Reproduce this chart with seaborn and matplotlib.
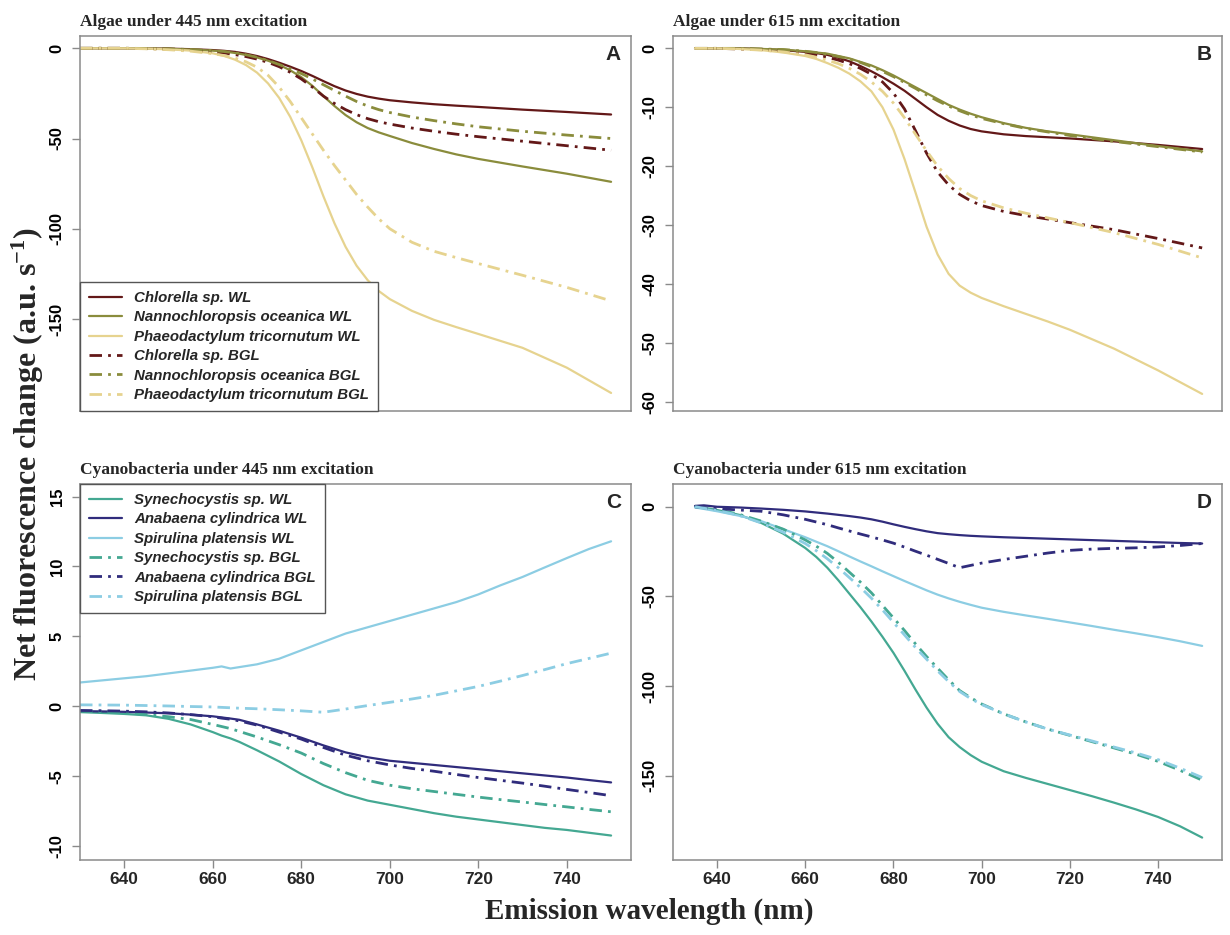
import numpy as np
import pandas as pd
import matplotlib
matplotlib.use("Agg")
import matplotlib.pyplot as plt
import seaborn as sns

# ---------------- data ----------------
nm_A = [630, 635, 640, 645, 650, 655, 660, 662.5, 665, 667.5, 670, 672.5, 675, 677.5, 680, 682.5,
        685, 687.5, 690, 692.5, 695, 697.5, 700, 705, 710, 715, 720, 730, 740, 750]
chl_wl_A  = [0, 0, 0, -0.1, -0.2, -0.5, -1.0, -1.4, -2.0, -3.0, -4.3, -6.0, -8.0, -10.2, -12.6, -15.3,
             -18.2, -21.0, -23.4, -25.3, -26.8, -27.9, -28.8, -30.0, -31.0, -31.8, -32.5, -34.0, -35.3, -36.7]
nan_wl_A  = [0, 0, 0, -0.1, -0.3, -0.7, -1.3, -1.8, -2.6, -3.7, -5.1, -6.9, -9.2, -12.2, -16, -20.8,
             -26.5, -32, -37, -41, -44.2, -46.6, -48.6, -52.5, -55.8, -58.8, -61.3, -65.5, -69.5, -74]
pha_wl_A  = [0, 0, 0, -0.2, -0.6, -1.3, -2.8, -4.2, -6.3, -9.3, -13.5, -19.5, -27.5, -38, -51, -66,
             -82, -97, -110, -120.5, -128.5, -134.5, -139, -145.5, -150.5, -154.5, -158.3, -166, -177, -191]
chl_bgl_A = [0, 0, 0, -0.2, -0.4, -1.0, -1.9, -2.6, -3.5, -4.6, -6.0, -7.8, -10.2, -13.3, -17, -21.5,
             -26.5, -30.6, -34, -36.8, -39, -40.7, -42, -44.2, -46, -47.6, -49, -51.5, -54, -56.5]
nan_bgl_A = [0, 0, 0, -0.1, -0.3, -0.7, -1.3, -1.8, -2.5, -3.6, -5.0, -6.8, -9.0, -11.4, -14.0, -17,
             -20.2, -23.4, -26.5, -29.5, -32, -34, -35.6, -38.1, -40.1, -41.9, -43.5, -46, -48.1, -50]
pha_bgl_A = [0, 0, 0, -0.3, -0.8, -1.6, -3, -4, -5.4, -7.5, -10.5, -15, -21.5, -29.5, -38.5, -47.5,
             -56.5, -65, -73, -81, -88, -94.5, -100, -107.5, -112.5, -116, -119.3, -125.8, -132.5, -140]

nm_B = [635, 640, 645, 650, 655, 660, 662.5, 665, 667.5, 670, 672.5, 675, 677.5, 680, 682.5,
        685, 687.5, 690, 692.5, 695, 697.5, 700, 705, 710, 715, 720, 730, 740, 750]
chl_wl_B  = [0, 0, 0, -0.1, -0.3, -0.6, -0.8, -1.1, -1.6, -2.2, -3.0, -3.9, -4.9, -6.0, -7.2,
             -8.6, -10.0, -11.3, -12.3, -13.1, -13.7, -14.1, -14.6, -14.9, -15.1, -15.3, -15.8, -16.4, -17.1]
nan_wl_B  = [0, 0, 0, -0.1, -0.2, -0.5, -0.7, -0.9, -1.3, -1.7, -2.3, -2.9, -3.7, -4.6, -5.6,
             -6.6, -7.6, -8.6, -9.6, -10.4, -11.1, -11.7, -12.7, -13.5, -14.1, -14.6, -15.6, -16.6, -17.5]
pha_wl_B  = [0, 0, -0.1, -0.3, -0.7, -1.3, -1.8, -2.5, -3.3, -4.3, -5.6, -7.3, -10, -13.8, -18.8,
             -24.5, -30.3, -35, -38.3, -40.3, -41.5, -42.4, -43.8, -45.1, -46.4, -47.8, -51, -54.7, -58.7]
chl_bgl_B = [0, 0, -0.1, -0.2, -0.4, -0.8, -1.1, -1.5, -2.0, -2.6, -3.4, -4.4, -5.7, -7.6, -10.3,
             -14, -17.8, -21, -23.2, -24.8, -25.9, -26.7, -27.7, -28.4, -29, -29.6, -30.8, -32.3, -33.9]
nan_bgl_B = [0, 0, 0, -0.1, -0.2, -0.5, -0.7, -1.0, -1.4, -1.8, -2.4, -3.1, -3.9, -4.8, -5.8,
             -6.8, -7.9, -8.9, -9.8, -10.6, -11.3, -11.9, -12.8, -13.6, -14.2, -14.8, -15.8, -16.7, -17.6]
pha_bgl_B = [0, 0, -0.1, -0.3, -0.6, -1.1, -1.5, -2.0, -2.6, -3.4, -4.4, -5.7, -7.3, -9.3, -11.8,
             -14.6, -17.4, -20, -22.1, -23.8, -25, -25.9, -27.1, -28, -28.8, -29.6, -31.3, -33.3, -35.6]

nm_C = [630, 635, 640, 645, 650, 655, 660, 662, 664, 666, 670, 675, 680, 685, 690, 695, 700, 705, 710, 715, 720, 725, 730, 735, 740, 745, 750]
syn_wl_C  = [-0.42, -0.48, -0.55, -0.65, -0.9, -1.3, -1.85, -2.1, -2.3, -2.55, -3.15, -3.95, -4.85, -5.65, -6.3, -6.75, -7.05, -7.35, -7.65, -7.9, -8.1, -8.3, -8.5, -8.7, -8.85, -9.05, -9.25]
ana_wl_C  = [-0.35, -0.37, -0.4, -0.45, -0.5, -0.6, -0.72, -0.8, -0.88, -0.97, -1.3, -1.75, -2.25, -2.8, -3.3, -3.65, -3.9, -4.05, -4.2, -4.35, -4.5, -4.65, -4.8, -4.95, -5.1, -5.28, -5.45]
spi_wl_C  = [1.7, 1.85, 2.0, 2.15, 2.35, 2.55, 2.75, 2.85, 2.7, 2.8, 3.0, 3.4, 4.0, 4.6, 5.2, 5.65, 6.1, 6.55, 7.0, 7.45, 8.0, 8.65, 9.25, 9.93, 10.6, 11.25, 11.8]
syn_bgl_C = [-0.35, -0.4, -0.45, -0.6, -0.75, -0.95, -1.3, -1.45, -1.6, -1.8, -2.2, -2.75, -3.35, -4.1, -4.75, -5.3, -5.65, -5.9, -6.1, -6.3, -6.5, -6.68, -6.85, -7.03, -7.2, -7.38, -7.55]
ana_bgl_C = [-0.3, -0.32, -0.35, -0.4, -0.48, -0.6, -0.75, -0.85, -0.93, -1.05, -1.35, -1.85, -2.35, -2.95, -3.5, -3.9, -4.2, -4.45, -4.65, -4.88, -5.1, -5.3, -5.5, -5.72, -5.95, -6.17, -6.4]
spi_bgl_C = [0.1, 0.09, 0.08, 0.05, 0.02, -0.02, -0.05, -0.08, -0.11, -0.14, -0.18, -0.25, -0.33, -0.43, -0.2, 0.05, 0.28, 0.52, 0.78, 1.1, 1.42, 1.8, 2.2, 2.62, 3.05, 3.42, 3.8]

nm_D = [635, 637, 640, 645, 650, 655, 660, 662.5, 665, 667.5, 670, 672.5, 675, 677.5, 680, 682.5,
        685, 687.5, 690, 692.5, 695, 697.5, 700, 705, 710, 715, 720, 725, 730, 735, 740, 745, 750]
syn_wl_D  = [0, -0.5, -1.8, -4.5, -9, -15, -23, -28, -34, -41, -48.5, -56, -64, -72.5, -81.5, -91.5,
             -102, -112, -121, -128.5, -134, -138.5, -142.2, -147.5, -151.2, -154.6, -158, -161.4, -165, -168.8, -173, -178.2, -184.5]
ana_wl_D  = [0.5, 0.8, 0, -0.4, -1, -1.7, -2.6, -3.2, -3.8, -4.5, -5.2, -6.0, -7, -8.3, -9.8, -11.2,
             -12.5, -13.7, -14.7, -15.3, -15.8, -16.2, -16.5, -17, -17.4, -17.8, -18.2, -18.6, -19, -19.4, -19.8, -20.2, -20.5]
spi_wl_D  = [-0.4, -1.2, -2.5, -5, -8, -12.5, -17, -19.5, -22, -24.8, -27.7, -30.5, -33.2, -36, -38.7, -41.4,
             -44, -46.6, -49, -51.1, -53, -54.7, -56.3, -58.6, -60.6, -62.5, -64.5, -66.5, -68.6, -70.6, -72.7, -75, -77.6]
syn_bgl_D = [0, -0.6, -1.5, -4.2, -8, -12.5, -18.5, -22, -26, -31, -36.5, -42, -48, -55, -62, -69,
             -76.5, -83.5, -90, -96.5, -102.5, -106.5, -110, -115.5, -120, -124, -127.5, -131, -134.5, -138, -142, -147, -152.5]
ana_bgl_D = [0, -0.5, -1, -1.8, -2.5, -4.5, -7, -8.5, -10, -11.8, -13.5, -15.2, -16.8, -18.5, -20.3, -22.5,
             -24.8, -27, -29.3, -31.6, -34, -32.7, -31.4, -29.4, -27.6, -25.8, -24.3, -23.6, -23.2, -22.9, -22.4, -21.6, -20.5]
spi_bgl_D = [0, -0.8, -2, -4.8, -9, -14.2, -20.5, -24.5, -29, -34, -39.5, -45, -51, -57.5, -64.5, -71.5,
             -78.5, -85, -91.5, -97.5, -103, -107, -110.3, -115.5, -120, -124, -127.3, -130.6, -134, -137.3, -141, -145.8, -151]

algae_names = ["Chlorella sp.", "Nannochloropsis oceanica", "Phaeodactylum tricornutum"]
cyano_names = ["Synechocystis sp.", "Anabaena cylindrica", "Spirulina platensis"]
conditions = ["WL", "BGL"]
algae_colors = ["#631818", "#8a8c3c", "#e6d38f"]
cyano_colors = ["#44a892", "#302c7c", "#8ccde3"]

titles = ["Algae under 445 nm excitation", "Algae under 615 nm excitation",
          "Cyanobacteria under 445 nm excitation", "Cyanobacteria under 615 nm excitation"]
letters = ["A", "B", "C", "D"]
yticks_A = [-150, -100, -50, 0]
yticks_B = [-60, -50, -40, -30, -20, -10, 0]
yticks_C = [-10, -5, 0, 5, 10, 15]
yticks_D = [-150, -100, -50, 0]
xticks = [640, 660, 680, 700, 720, 740]

# ---------------- style ----------------
sns.set_theme(style="white")
plt.rcParams["font.family"] = ["Liberation Sans", "DejaVu Sans"]
plt.rcParams["mathtext.fontset"] = "custom"
plt.rcParams["mathtext.rm"] = "Liberation Serif:bold"
plt.rcParams["mathtext.it"] = "Liberation Serif:bold:italic"
plt.rcParams["mathtext.bf"] = "Liberation Serif:bold"
plt.rcParams["axes.unicode_minus"] = False

fig = plt.figure(figsize=(12.3, 9.35), dpi=100)
W, H = 1230.0, 935.0
def box(l, t, r, b):
    return [l / W, 1 - b / H, (r - l) / W, (b - t) / H]

axA = fig.add_axes(box(80, 36, 631, 411))
axB = fig.add_axes(box(673, 36, 1222, 411))
axC = fig.add_axes(box(80, 484, 631, 860))
axD = fig.add_axes(box(673, 484, 1222, 860))

DASHDOT = (0, (4.5, 2.2, 1.0, 2.2))

def draw(ax, nm, series, names, colors):
    for cond, data in zip(conditions, series):
        for name, col, vals in zip(names, colors, data):
            ls = "-" if cond == "WL" else DASHDOT
            lw = 1.6 if cond == "WL" else 2.0
            sns.lineplot(x=nm, y=vals, ax=ax, color=col, linestyle=ls, linewidth=lw,
                         label=f"{name} {cond}", sort=False, legend=False)

draw(axA, nm_A, [[chl_wl_A, nan_wl_A, pha_wl_A], [chl_bgl_A, nan_bgl_A, pha_bgl_A]], algae_names, algae_colors)
draw(axB, nm_B, [[chl_wl_B, nan_wl_B, pha_wl_B], [chl_bgl_B, nan_bgl_B, pha_bgl_B]], algae_names, algae_colors)
draw(axC, nm_C, [[syn_wl_C, ana_wl_C, spi_wl_C], [syn_bgl_C, ana_bgl_C, spi_bgl_C]], cyano_names, cyano_colors)
draw(axD, nm_D, [[syn_wl_D, ana_wl_D, spi_wl_D], [syn_bgl_D, ana_bgl_D, spi_bgl_D]], cyano_names, cyano_colors)

ylims = [(-201, 6.8), (-61.6, 2.1), (-11.0, 15.9), (-197, 12.7)]
yticks = [yticks_A, yticks_B, yticks_C, yticks_D]
for i, ax in enumerate([axA, axB, axC, axD]):
    ax.set_xlim(630, 754.5)
    ax.set_ylim(*ylims[i])
    ax.set_yticks(yticks[i])
    ax.set_yticklabels([f"{v:g}" for v in yticks[i]], rotation=90, va="center",
                       fontsize=12, fontweight="bold", color="black")
    ax.set_xlabel("")
    ax.set_ylabel("")
    for s in ax.spines.values():
        s.set_color("#8a8a8a")
        s.set_linewidth(1.1)
    ax.tick_params(axis="y", direction="out", length=6, width=1, color="#8a8a8a", pad=5, left=True)
    if i < 2:
        ax.set_xticks([])
    else:
        ax.set_xticks(xticks)
        ax.set_xticklabels([str(v) for v in xticks], fontsize=12.5, fontweight="bold")
        ax.tick_params(axis="x", direction="out", length=6, width=1, color="#8a8a8a", pad=3, bottom=True)
    ax.set_title(titles[i], loc="left", fontsize=12.5, fontweight="bold",
                 family="Liberation Serif", pad=7)
    ax.text(0.982, 0.975, letters[i], transform=ax.transAxes, ha="right", va="top",
            fontsize=15, fontweight="bold")
    ax.grid(False)

leg_kw = dict(frameon=True, fancybox=False, borderaxespad=0, handlelength=2.2,
              handletextpad=0.8, labelspacing=0.36, borderpad=0.6,
              prop=dict(family="Liberation Sans", weight="bold", style="italic", size=10.8))
legA = axA.legend(loc="lower left", **leg_kw)
legC = axC.legend(loc="upper left", **leg_kw)
for lg in (legA, legC):
    lg.get_frame().set_edgecolor("#555555")
    lg.get_frame().set_linewidth(1.0)
    lg.get_frame().set_alpha(1)

fig.text(0.023, 0.514, "Net fluorescence change (a.u. s$^{-1}$)", rotation=90,
         ha="center", va="center", fontsize=23, fontweight="bold", family="Liberation Serif")
fig.text(0.528, 0.025, "Emission wavelength (nm)", ha="center", va="center",
         fontsize=21, fontweight="bold", family="Liberation Serif")

fig.savefig("out.png", dpi=100)
